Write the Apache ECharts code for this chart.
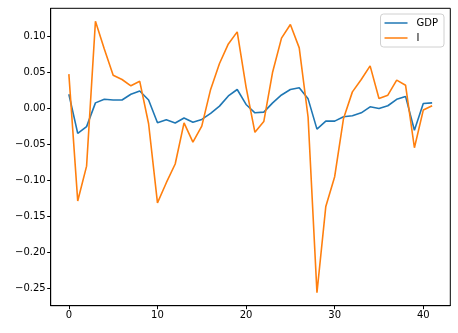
<!DOCTYPE html>
<html>
<head>
<meta charset="utf-8">
<script src="https://cdn.jsdelivr.net/npm/echarts@6/dist/echarts.min.js"></script>
<style>html,body{margin:0;padding:0;background:#fff}#c{width:458px;height:333px}</style>
</head>
<body>
<div id="c"></div>
<script>
const gdp = [0.020, -0.0345, -0.025, 0.008, 0.013, 0.012, 0.012, 0.020, 0.0245, 0.012,
  -0.0197, -0.0155, -0.020, -0.013, -0.019, -0.015, -0.0067, 0.0035, 0.0176, 0.0266,
  0.0058, -0.0058, -0.0049, 0.008, 0.019, 0.0266, 0.029, 0.0136, -0.0285, -0.0174,
  -0.0174, -0.0113, -0.010, -0.0058, 0.0025, 0.0003, 0.004, 0.013, 0.017, -0.030,
  0.0072, 0.008];
const inv = [0.048, -0.1285, -0.080, 0.1215, 0.083, 0.0465, 0.0405, 0.0317, 0.038, -0.021,
  -0.131, -0.103, -0.077, -0.0197, -0.0465, -0.0243, 0.0267, 0.0628, 0.090, 0.1067,
  0.030, -0.033, -0.018, 0.051, 0.098, 0.117, 0.0845, -0.012, -0.256, -0.136,
  -0.0947, -0.0136, 0.0233, 0.0405, 0.0595, 0.014, 0.0187, 0.0396, 0.0326, -0.0544,
  -0.002, 0.004];
const xTicks = [0, 10, 20, 30, 40];
const yTicks = [-0.25, -0.20, -0.15, -0.10, -0.05, 0.00, 0.05, 0.10];
const seriesNames = ['GDP', 'I'];

const chart = echarts.init(document.getElementById('c'), null, {renderer: 'canvas'});
const font = 'DejaVu Sans';
const fmtY = v => (v < 0 ? '\u2212' : '') + Math.abs(v).toFixed(2);
chart.setOption({
  animation: false,
  grid: {left: 50.7, right: 7.7, top: 8.3, bottom: 27.3, show: true, borderColor: '#000', borderWidth: 1, backgroundColor: 'transparent'},
  legend: {
    orient: 'vertical', right: 14, top: 14,
    data: seriesNames,
    icon: 'rect', itemWidth: 23, itemHeight: 1.5, itemGap: 5,
    textStyle: {fontFamily: font, fontSize: 10, color: '#000', padding: [0, 0, 0, 4]},
    borderColor: '#d0d0d0', borderWidth: 1, borderRadius: 3,
    padding: [4, 6, 4, 4], backgroundColor: 'rgba(255,255,255,0.8)'
  },
  xAxis: {
    type: 'value', min: -2.05, max: 43.05,
    splitLine: {show: false},
    axisLine: {show: true, onZero: false, lineStyle: {color: '#000', width: 1}},
    axisTick: {show: true, length: 3.5, customValues: xTicks, lineStyle: {color: '#000'}},
    axisLabel: {customValues: xTicks, fontFamily: font, fontSize: 10, color: '#000', margin: 5, formatter: v => String(v)}
  },
  yAxis: {
    type: 'value', min: -0.274, max: 0.1395,
    splitLine: {show: false},
    axisLine: {show: true, onZero: false, lineStyle: {color: '#000', width: 1}},
    axisTick: {show: true, length: 3.5, customValues: yTicks, lineStyle: {color: '#000'}},
    axisLabel: {customValues: yTicks, fontFamily: font, fontSize: 10, color: '#000', margin: 5, formatter: fmtY}
  },
  series: [
    {name: seriesNames[0], type: 'line', showSymbol: false, symbol: 'none', data: gdp.map((v, i) => [i, v]),
     lineStyle: {color: '#1f77b4', width: 1.6}, itemStyle: {color: '#1f77b4'}, z: 2},
    {name: seriesNames[1], type: 'line', showSymbol: false, symbol: 'none', data: inv.map((v, i) => [i, v]),
     lineStyle: {color: '#ff7f0e', width: 1.6}, itemStyle: {color: '#ff7f0e'}, z: 3}
  ]
});
</script>
</body>
</html>
